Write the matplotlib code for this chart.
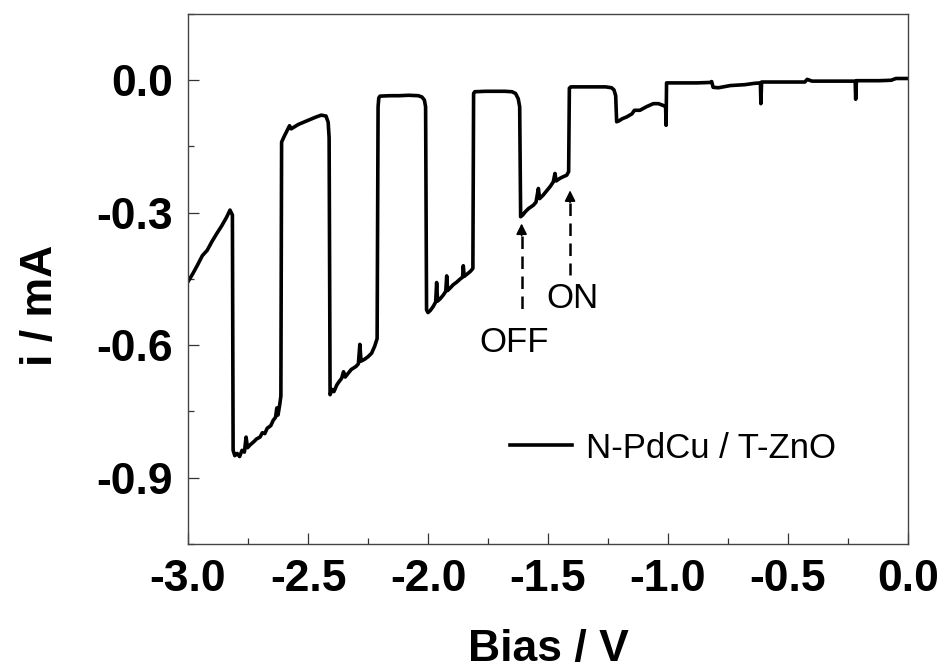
import numpy as np
import matplotlib
matplotlib.use("Agg")
import matplotlib.pyplot as plt
from matplotlib.ticker import MultipleLocator

plt.rcParams['font.family'] = ['Liberation Sans', 'DejaVu Sans']

# chopped-light sweep (V vs mA)
bias_v = [
    -3.000, -2.980, -2.960, -2.940, -2.920, -2.900, -2.880, -2.860, -2.840, -2.825, -2.815,
    -2.812, -2.805, -2.795, -2.785, -2.775, -2.765, -2.758, -2.752, -2.740, -2.725, -2.714, -2.700,
    -2.690, -2.680, -2.670, -2.655, -2.645, -2.635, -2.630, -2.625, -2.618, -2.613,
    -2.610, -2.600, -2.589, -2.577, -2.570, -2.540, -2.500, -2.470, -2.445, -2.425, -2.416, -2.412,
    -2.408, -2.400, -2.392, -2.380, -2.370, -2.360, -2.352, -2.345, -2.330, -2.320, -2.300, -2.290,
    -2.284, -2.279, -2.265, -2.250, -2.235, -2.222, -2.212,
    -2.208, -2.205, -2.200, -2.160, -2.120, -2.080, -2.040, -2.025, -2.015, -2.010,
    -2.006, -2.000, -1.990, -1.978, -1.968, -1.964, -1.960, -1.948, -1.936, -1.926, -1.922, -1.918,
    -1.905, -1.895, -1.880, -1.866, -1.856, -1.853, -1.849, -1.835, -1.822, -1.813,
    -1.810, -1.805, -1.760, -1.720, -1.680, -1.650, -1.635, -1.624, -1.618,
    -1.614, -1.605, -1.595, -1.580, -1.561, -1.550, -1.540, -1.535, -1.520, -1.505, -1.490, -1.478,
    -1.471, -1.466, -1.450, -1.435, -1.422, -1.414,
    -1.411, -1.405, -1.360, -1.300, -1.260, -1.235, -1.225, -1.218,
    -1.214, -1.205, -1.190, -1.172, -1.150, -1.140, -1.117, -1.090, -1.061, -1.040, -1.020, -1.010,
    -1.008, -1.006, -0.950, -0.880, -0.825, -0.818, -0.812, -0.790, -0.740, -0.680, -0.640, -0.615,
    -0.613, -0.610, -0.520, -0.430, -0.420, -0.410, -0.400, -0.300, -0.220, -0.218, -0.215, -0.120,
    -0.070, -0.050, 0.000,
]
current_ma = [
    -0.456, -0.438, -0.418, -0.397, -0.385, -0.365, -0.347, -0.330, -0.311, -0.294, -0.305,
    -0.838, -0.850, -0.845, -0.852, -0.838, -0.842, -0.808, -0.832, -0.825, -0.818, -0.812, -0.808,
    -0.798, -0.800, -0.788, -0.782, -0.770, -0.763, -0.742, -0.758, -0.735, -0.715,
    -0.140, -0.128, -0.116, -0.103, -0.110, -0.100, -0.091, -0.084, -0.079, -0.081, -0.095, -0.130,
    -0.712, -0.700, -0.705, -0.690, -0.682, -0.675, -0.660, -0.672, -0.662, -0.655, -0.648, -0.642,
    -0.598, -0.636, -0.632, -0.626, -0.618, -0.602, -0.585,
    -0.060, -0.040, -0.036, -0.035, -0.035, -0.034, -0.035, -0.038, -0.045, -0.060,
    -0.520, -0.526, -0.521, -0.512, -0.502, -0.458, -0.500, -0.494, -0.486, -0.478, -0.443, -0.476,
    -0.469, -0.463, -0.457, -0.450, -0.446, -0.420, -0.444, -0.438, -0.432, -0.426,
    -0.030, -0.026, -0.025, -0.025, -0.025, -0.026, -0.030, -0.042, -0.060,
    -0.309, -0.305, -0.298, -0.290, -0.283, -0.276, -0.245, -0.268, -0.260, -0.250, -0.240, -0.230,
    -0.211, -0.228, -0.222, -0.218, -0.215, -0.207,
    -0.018, -0.015, -0.015, -0.015, -0.015, -0.017, -0.022, -0.035,
    -0.094, -0.092, -0.087, -0.083, -0.076, -0.068, -0.068, -0.060, -0.053, -0.053, -0.057, -0.060,
    -0.102, -0.006, -0.006, -0.006, -0.005, -0.003, -0.016, -0.017, -0.012, -0.010, -0.007, -0.006,
    -0.053, -0.004, -0.004, -0.004, 0.002, 0.000, -0.002, -0.002, -0.002, -0.043, -0.001, -0.001,
    0.000, 0.004, 0.004,
]
series_label = "N-PdCu / T-ZnO"
x_ticks = [-3.0, -2.5, -2.0, -1.5, -1.0, -0.5, 0.0]
y_ticks = [-0.9, -0.6, -0.3, 0.0]

assert len(bias_v) == len(current_ma)

fig = plt.figure(figsize=(9.44, 6.70), dpi=100)
ax = fig.add_axes([188 / 944, 1 - 544 / 670, 720 / 944, 530 / 670])

ax.plot(bias_v, current_ma, color='black', lw=2.6, label=series_label, solid_joinstyle='round')

# dashed OFF / ON markers with arrow heads
for x, tip, bottom in [(-1.610, -0.318, -0.524), (-1.408, -0.243, -0.441)]:
    ax.plot([x, x], [tip - 0.035, bottom], color='black', lw=1.8, ls=(0, (5, 3)))
    ax.annotate('', xy=(x, tip), xytext=(x, tip - 0.04),
                arrowprops=dict(arrowstyle='-|>', color='black', lw=1.2, mutation_scale=16))
ax.text(-1.642, -0.594, 'OFF', fontsize=25, ha='center', va='center')
ax.text(-1.400, -0.494, 'ON', fontsize=25, ha='center', va='center')

ax.set_xlim(-3.0, 0.0)
ax.set_ylim(-1.05, 0.15)
ax.set_xticks(x_ticks)
ax.set_yticks(y_ticks)
ax.set_xticklabels([f"{v:.1f}" for v in x_ticks])
ax.set_yticklabels([f"{v:.1f}" for v in y_ticks])
ax.xaxis.set_minor_locator(MultipleLocator(0.25))
ax.yaxis.set_minor_locator(MultipleLocator(0.15))
ax.tick_params(which='both', direction='in', top=False, right=False, width=0.9, color='#333333')
ax.tick_params(which='major', length=8)
ax.tick_params(which='minor', length=4)
ax.tick_params(axis='x', which='major', pad=11, labelsize=32)
ax.tick_params(axis='y', which='major', pad=11, labelsize=32)
for lab in ax.get_xticklabels() + ax.get_yticklabels():
    lab.set_fontweight('bold')
for sp in ax.spines.values():
    sp.set_linewidth(1.0)
    sp.set_color('#444444')

ax.set_xlabel('Bias / V', fontsize=32, fontweight='bold')
ax.set_ylabel('i / mA', fontsize=32, fontweight='bold')
ax.xaxis.set_label_coords(0.5, -0.16)
ax.yaxis.set_label_coords(-0.176, 0.45)

ax.legend(loc='center left', bbox_to_anchor=(0.447, 0.181), frameon=False, fontsize=25,
          handlelength=1.8, handletextpad=0.4, borderpad=0, borderaxespad=0)

fig.savefig('out.png', dpi=100)
